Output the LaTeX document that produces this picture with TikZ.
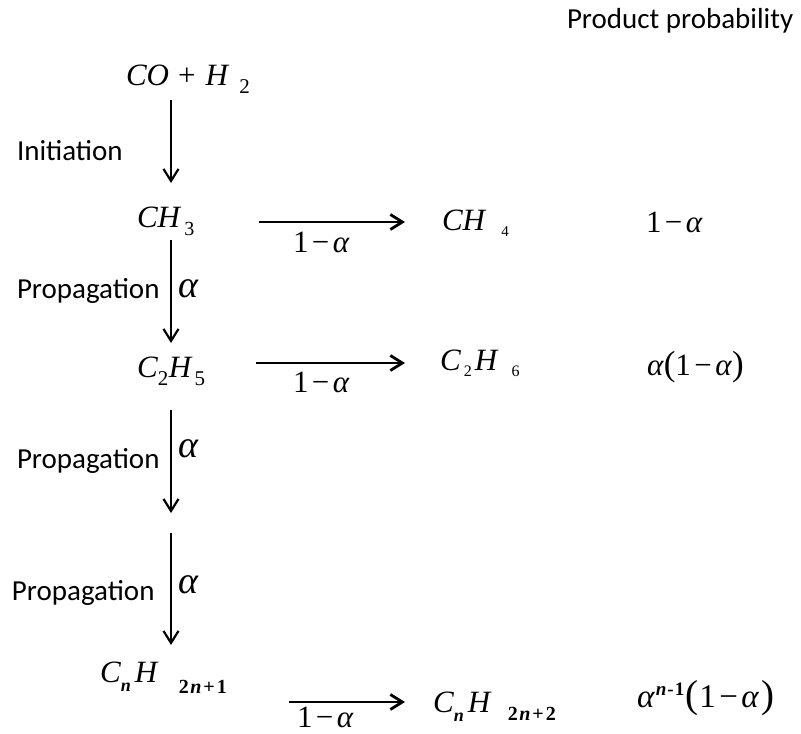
\documentclass[tikz,border=0pt]{standalone}
\usepackage{fontspec}
\setmainfont{Liberation Serif}
\newfontfamily\carl{Carlito}
\usetikzlibrary{arrows.meta}
\newcommand{\sbx}[3]{\raisebox{-#1pt}{\fontsize{#2}{#2}\selectfont #3}}
\newcommand{\spx}[3]{\raisebox{#1pt}{\fontsize{#2}{#2}\selectfont #3}}
\newcommand{\oma}{1\kern3.5pt−\kern3.5pt\textit{α}}
\newcommand{\bigp}[2]{{\fontsize{#1}{#1}\selectfont #2}}
\begin{document}
\begin{tikzpicture}[x=1pt,y=-1pt,
  mt/.style={inner sep=0pt,outer sep=0pt,anchor=base west,text height=20pt,text depth=10pt,font=\fontsize{31}{36}\selectfont},
  mlab/.style={inner sep=0pt,outer sep=0pt,anchor=base west,font=\fontsize{31}{36}\selectfont},
  lab/.style={inner sep=0pt,outer sep=0pt,anchor=base west,font=\carl\fontsize{29}{34}\selectfont},
  varr/.style={line width=2.2pt,-{Straight Barb[length=12pt,width=15pt]}},
  harr/.style={line width=2.8pt,-{Straight Barb[length=12pt,width=15pt]}}]
\fill[white] (0,0) rectangle (801,734);
\useasboundingbox (0,0) rectangle (801,734);
\coordinate (ax) at (171,0);
\coordinate (m1) at (171,513);
\coordinate (m2) at (171,533);
% header
\node[lab] (pp) at (567,28) {Product probability};
% species
\node[mt] (co) at (126,85) {\textit{CO}\kern9pt+\kern10pt\textit{H}\kern10pt\sbx{8}{21}{2}};
\node[mt] (ch3) at (137,227) {\textit{CH}\kern3pt\sbx{8}{20}{3}};
\node[mt] (ch4) at (442,230) {\textit{CH}\kern15pt\sbx{6}{15}{4}};
\node[mt] (c2h5) at (137,377) {\textit{C}\kern0pt\sbx{8}{21}{2}\kern0.5pt\textit{H}\kern2pt\sbx{8}{21}{5}};
\node[mt] (c2h6) at (440,370) {\textit{C}\kern3pt\sbx{6}{16}{2}\kern3pt\textit{H}\kern13pt\sbx{6}{16}{6}};
\node[mt] (cn1) at (100,682) {\textit{C}\kern0pt\sbx{9}{18}{\textbf{\textit{n}}}\kern4pt\textit{H}\kern20pt\sbx{11}{20}{\textbf{2\kern1.5pt\textit{n}\kern2pt+\kern2pt1}}};
\node[mt] (cn2) at (433,712) {\textit{C}\kern0pt\sbx{9}{18}{\textbf{\textit{n}}}\kern4pt\textit{H}\kern16pt\sbx{8}{20}{\textbf{2\kern1.5pt\textit{n}\kern2pt+\kern2pt2}}};
% product probabilities
\node[mt] (p1) at (646,232) {\oma};
\node[mt] (p2) at (647,375) {\textit{α}\bigp{35}{(}\oma\bigp{35}{)}};
\node[mt,font=\fontsize{33}{36}\selectfont] (p3) at (637,707) {\textit{α}\kern1pt\spx{12}{19}{\textbf{\textit{n}\kern1pt-\kern1pt1}}\kern1pt\bigp{39}{(}\kern1pt\oma\kern2pt\bigp{39}{)}};
% step labels
\node[lab] (ini) at (17,160) {Initiation};
\node[lab] (pr1) at (17,298) {Propagation};
\node[lab] (pr2) at (17,468) {Propagation};
\node[lab] (pr3) at (12,600) {Propagation};
\node[mlab,font=\fontsize{38}{40}\selectfont] (a1) at (178,297) {\textit{α}};
\node[mlab,font=\fontsize{38}{40}\selectfont] (a2) at (178,457) {\textit{α}};
\node[mlab,font=\fontsize{38}{40}\selectfont] (a3) at (178,593) {\textit{α}};
% termination labels
\node[mlab] (t1) at (293,252) {\oma};
\node[mlab] (t2) at (293,392) {\oma};
\node[mlab] (t3) at (297,727) {\oma};
% vertical arrows
\draw[varr,shorten <=5pt,shorten >=24pt] (co.south -| ax) -- (ch3.north -| ax);
\draw[varr,shorten <=3pt,shorten >=14pt] (ch3.south -| ax) -- (c2h5.north -| ax);
\draw[varr,shorten <=23pt] (c2h5.south -| ax) -- (m1);
\draw[varr,shorten >=17pt] (m2) -- (cn1.north -| ax);
% horizontal arrows
\draw[harr] ([xshift=65pt]ch3.east) -- ([xshift=-37pt,yshift=3pt]ch4.west);
\draw[harr] ([xshift=51pt,yshift=9pt]c2h5.east) -- ([xshift=-35pt,yshift=2pt]c2h6.west);
\draw[harr] ([xshift=62pt,yshift=-25pt]cn1.east) -- ([xshift=-28pt,yshift=5pt]cn2.west);
\end{tikzpicture}
\end{document}
